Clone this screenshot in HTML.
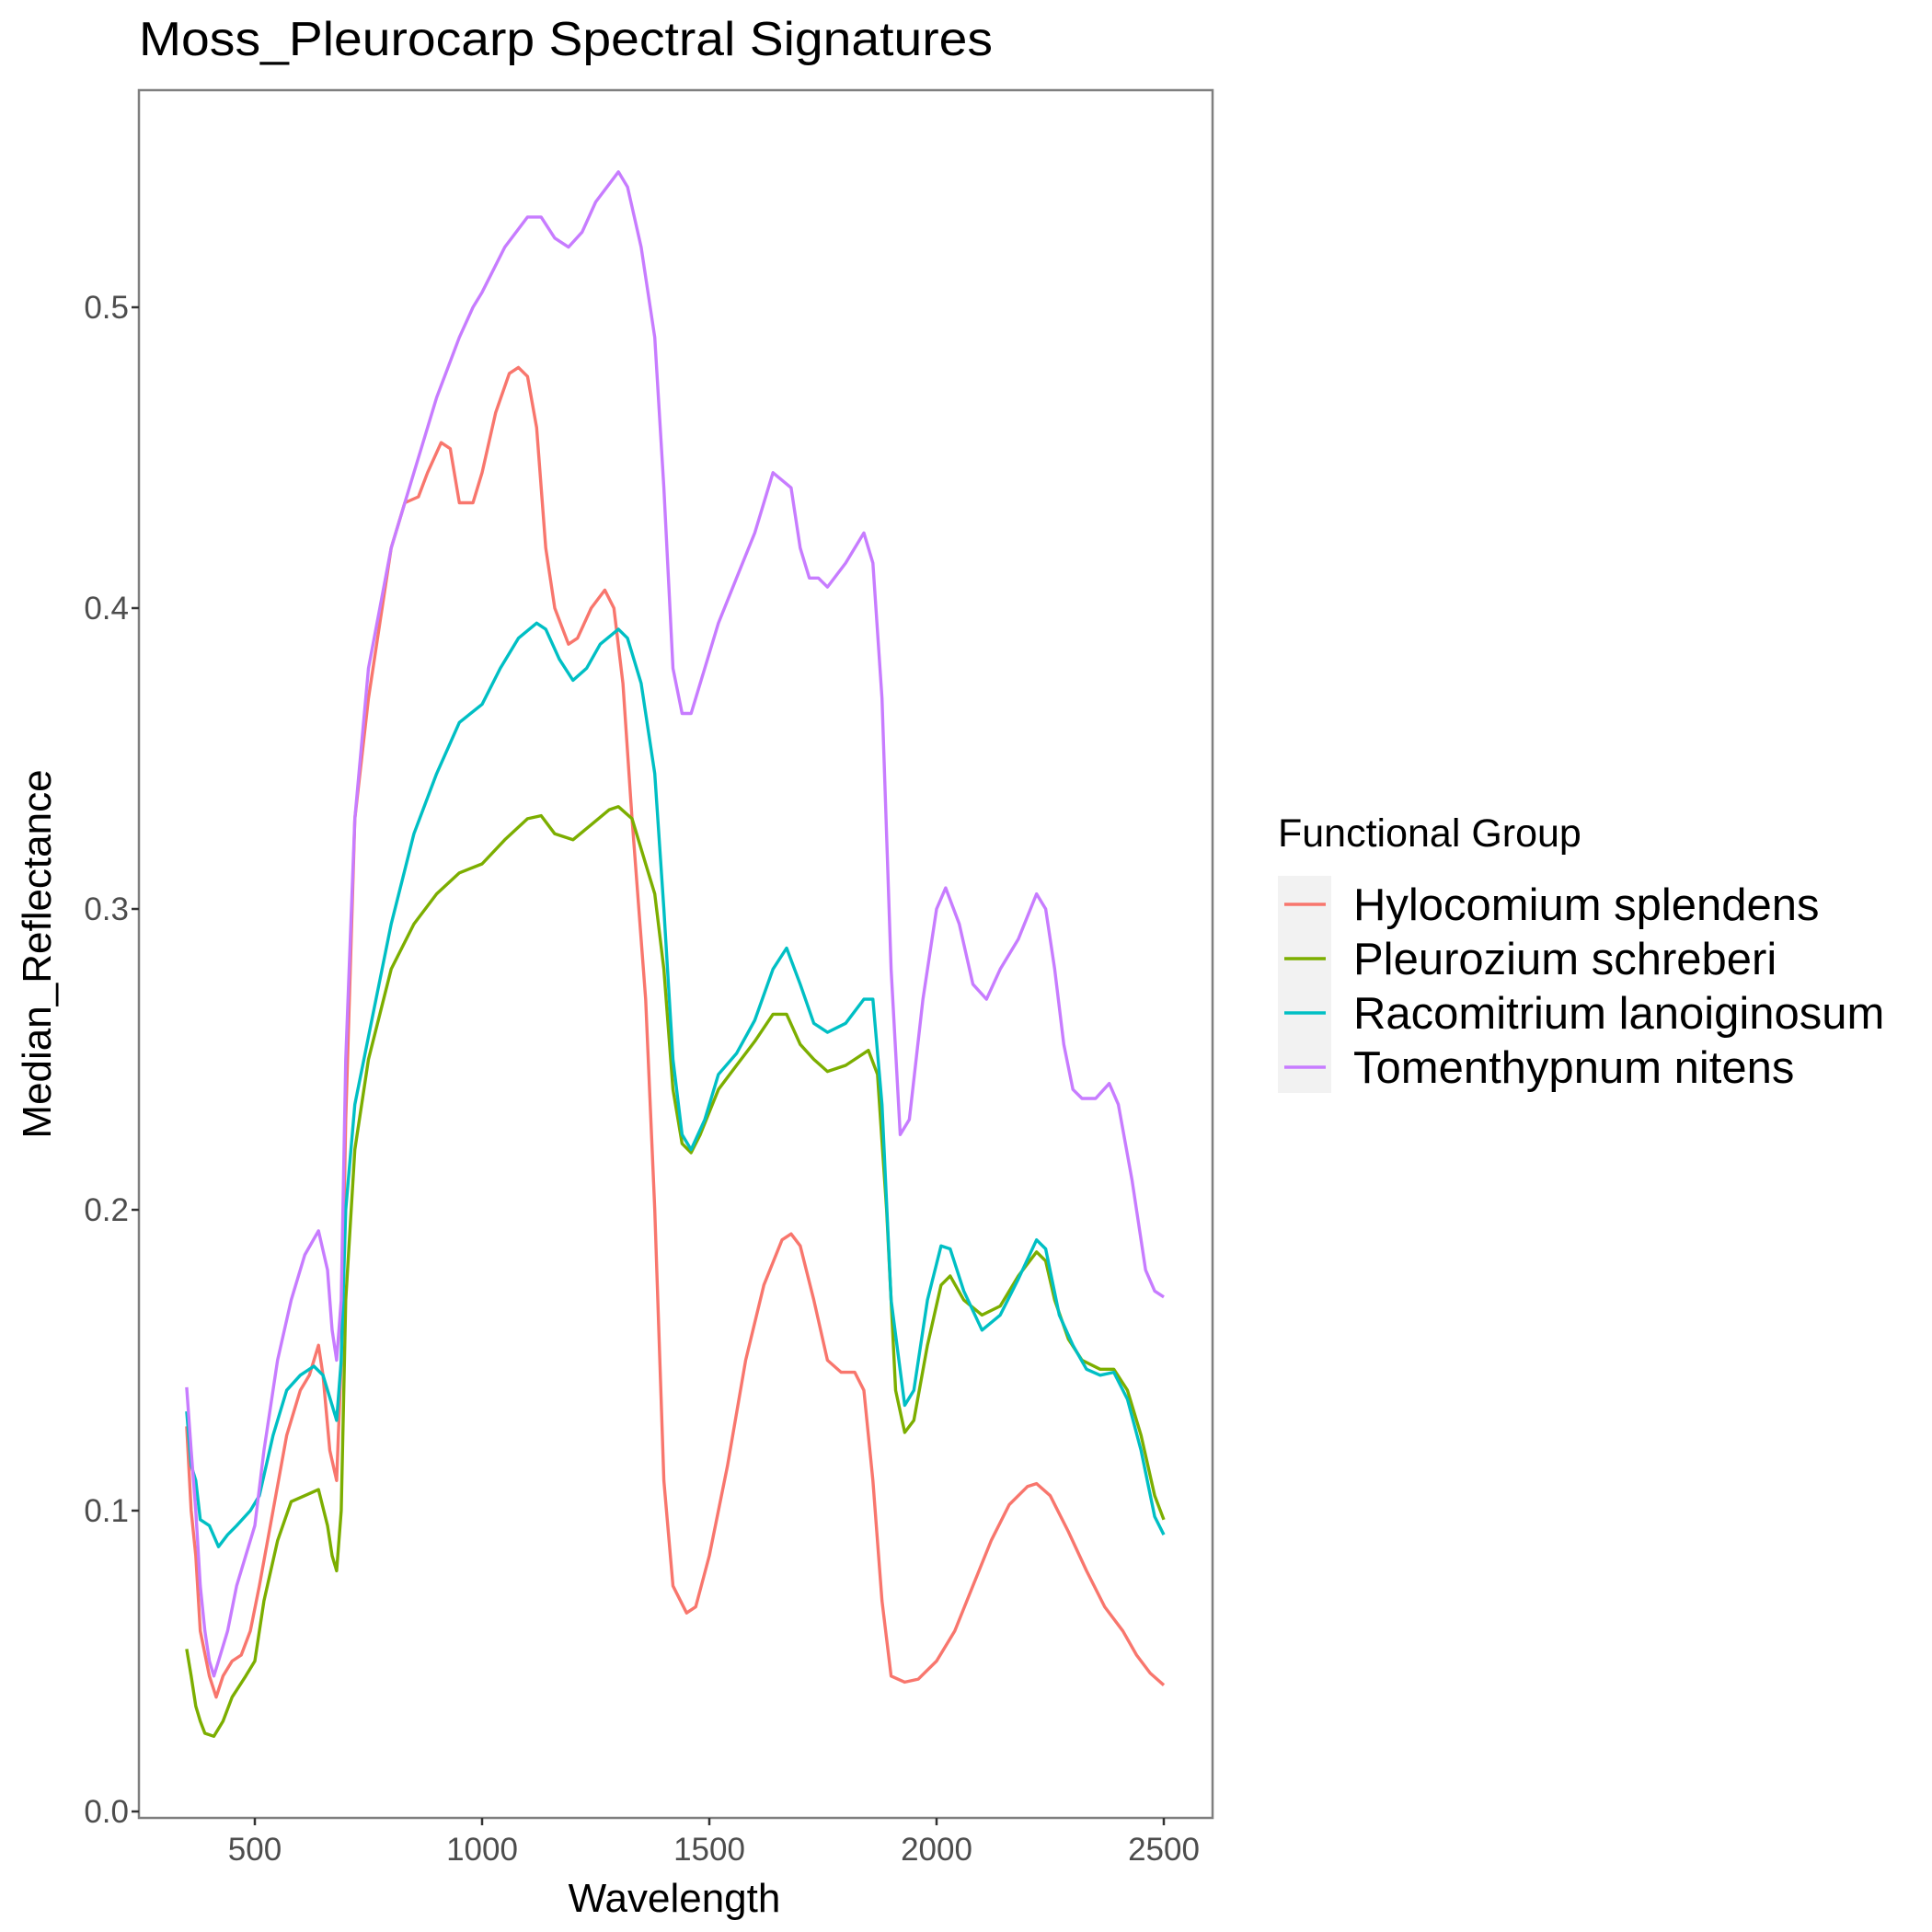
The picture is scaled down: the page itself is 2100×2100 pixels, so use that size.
<!DOCTYPE html>
<html><head><meta charset="utf-8"><style>
html,body{margin:0;padding:0;background:#fff;}
svg{display:block;font-family:"Liberation Sans",Arial,sans-serif;}
</style></head><body>
<svg id="chart" width="2100" height="2100" viewBox="0 0 2100 2100">
<rect width="2100" height="2100" fill="#fff"/>
<text x="151" y="60" font-size="52" fill="#000" textLength="928" lengthAdjust="spacingAndGlyphs">Moss_Pleurocarp Spectral Signatures</text>
<g id="plot"></g>
<g id="axes"></g>
<text x="733" y="2078" font-size="44" text-anchor="middle" fill="#000">Wavelength</text>
<text transform="translate(55,1037) rotate(-90)" font-size="44" text-anchor="middle" fill="#000">Median_Reflectance</text>
<g id="legend">
<text x="1389" y="920" font-size="43" fill="#000">Functional Group</text>
<rect x="1389" y="952" width="58" height="236" fill="#f2f2f2"/>
</g>
</svg>
<script>
const seriesNames = ["Hylocomium splendens","Pleurozium schreberi","Racomitrium lanoiginosum","Tomenthypnum nitens"];
const seriesColors = ["#F8766D","#7CAE00","#00BFC4","#C77CFF"];
const xTicks = [500,1000,1500,2000,2500];
const yTicks = [0,0.1,0.2,0.3,0.4,0.5];
const yTickLabels = ["0.0","0.1","0.2","0.3","0.4","0.5"];
const hyloWl = [350,360,370,380,400,415,430,450,470,490,510,540,570,600,620,640,650,665,680,690,700,720,750,800,830,860,880,910,930,950,980,1000,1030,1060,1080,1100,1120,1140,1160,1190,1210,1240,1270,1290,1310,1330,1360,1380,1400,1420,1450,1470,1500,1540,1580,1620,1660,1680,1700,1730,1760,1790,1820,1840,1860,1880,1900,1930,1960,2000,2040,2080,2120,2160,2200,2220,2250,2290,2330,2370,2410,2440,2470,2500];
const hyloVal = [0.128,0.1,0.085,0.06,0.045,0.038,0.045,0.05,0.052,0.06,0.075,0.1,0.125,0.14,0.145,0.155,0.145,0.12,0.11,0.15,0.23,0.33,0.37,0.42,0.435,0.437,0.445,0.455,0.453,0.435,0.435,0.445,0.465,0.478,0.48,0.477,0.46,0.42,0.4,0.388,0.39,0.4,0.406,0.4,0.375,0.33,0.27,0.2,0.11,0.075,0.066,0.068,0.085,0.115,0.15,0.175,0.19,0.192,0.188,0.17,0.15,0.146,0.146,0.14,0.11,0.07,0.045,0.043,0.044,0.05,0.06,0.075,0.09,0.102,0.108,0.109,0.105,0.093,0.08,0.068,0.06,0.052,0.046,0.042];
const pleuWl = [350,360,370,380,390,410,430,450,480,500,520,550,580,610,640,660,670,680,690,700,720,750,800,850,900,950,1000,1050,1100,1130,1160,1200,1240,1280,1300,1330,1360,1380,1400,1420,1440,1460,1480,1520,1560,1600,1640,1670,1700,1730,1760,1800,1850,1870,1890,1910,1930,1950,1980,2010,2030,2060,2100,2140,2180,2220,2240,2260,2290,2320,2360,2390,2420,2450,2480,2500];
const pleuVal = [0.054,0.045,0.035,0.03,0.026,0.025,0.03,0.038,0.045,0.05,0.07,0.09,0.103,0.105,0.107,0.095,0.085,0.08,0.1,0.17,0.22,0.25,0.28,0.295,0.305,0.312,0.315,0.323,0.33,0.331,0.325,0.323,0.328,0.333,0.334,0.33,0.315,0.305,0.28,0.24,0.222,0.219,0.225,0.24,0.248,0.256,0.265,0.265,0.255,0.25,0.246,0.248,0.253,0.245,0.2,0.14,0.126,0.13,0.155,0.175,0.178,0.17,0.165,0.168,0.178,0.186,0.183,0.17,0.157,0.15,0.147,0.147,0.14,0.125,0.105,0.097];
const racoWl = [350,360,370,380,400,420,440,460,490,510,540,570,600,630,650,670,680,690,700,720,760,800,850,900,950,1000,1040,1080,1120,1140,1170,1200,1230,1260,1300,1320,1350,1380,1400,1420,1440,1460,1490,1520,1560,1600,1640,1670,1700,1730,1760,1800,1840,1860,1880,1900,1930,1950,1980,2010,2030,2060,2100,2140,2180,2220,2240,2270,2300,2330,2360,2390,2420,2450,2480,2500];
const racoVal = [0.133,0.115,0.11,0.097,0.095,0.088,0.092,0.095,0.1,0.105,0.125,0.14,0.145,0.148,0.145,0.135,0.13,0.15,0.2,0.235,0.265,0.295,0.325,0.345,0.362,0.368,0.38,0.39,0.395,0.393,0.383,0.376,0.38,0.388,0.393,0.39,0.375,0.345,0.3,0.25,0.225,0.22,0.23,0.245,0.252,0.263,0.28,0.287,0.275,0.262,0.259,0.262,0.27,0.27,0.235,0.17,0.135,0.14,0.17,0.188,0.187,0.173,0.16,0.165,0.177,0.19,0.187,0.165,0.155,0.147,0.145,0.146,0.137,0.12,0.098,0.092];
const tomeWl = [350,360,370,380,390,400,410,420,440,460,480,500,520,550,580,610,640,660,670,680,690,700,720,750,800,850,900,950,980,1000,1050,1100,1130,1160,1190,1220,1250,1300,1320,1350,1380,1400,1420,1440,1460,1480,1520,1560,1600,1640,1680,1700,1720,1740,1760,1800,1840,1860,1880,1900,1920,1940,1970,2000,2020,2050,2080,2110,2140,2180,2220,2240,2260,2280,2300,2320,2350,2380,2400,2430,2460,2480,2500];
const tomeVal = [0.141,0.12,0.1,0.075,0.06,0.05,0.045,0.05,0.06,0.075,0.085,0.095,0.12,0.15,0.17,0.185,0.193,0.18,0.16,0.15,0.17,0.25,0.33,0.38,0.42,0.445,0.47,0.49,0.5,0.505,0.52,0.53,0.53,0.523,0.52,0.525,0.535,0.545,0.54,0.52,0.49,0.44,0.38,0.365,0.365,0.375,0.395,0.41,0.425,0.445,0.44,0.42,0.41,0.41,0.407,0.415,0.425,0.415,0.37,0.28,0.225,0.23,0.27,0.3,0.307,0.295,0.275,0.27,0.28,0.29,0.305,0.3,0.28,0.255,0.24,0.237,0.237,0.242,0.235,0.21,0.18,0.173,0.171];

const PL=151, PR=1318, PT=98, PB=1976;
function xs(w){ return 277 + (w-500)*(988/2000); }
function ys(v){ return 1969 - v*3270; }
const NS="http://www.w3.org/2000/svg";
function mk(tag, attrs, parent){ const e=document.createElementNS(NS,tag); for(const k in attrs) e.setAttribute(k,attrs[k]); parent.appendChild(e); return e; }

const plot=document.getElementById('plot');
const axes=document.getElementById('axes');
const bd=mk('rect',{x:PL,y:PT,width:PR-PL,height:PB-PT,fill:'none',stroke:'#7f7f7f','stroke-width':2.5},plot);



const allWl=[hyloWl,pleuWl,racoWl,tomeWl];
const allVal=[hyloVal,pleuVal,racoVal,tomeVal];
const keys=['hylocomium','pleurozium','racomitrium','tomenthypnum'];
allWl.forEach((wl,i)=>{
  let d='';
  wl.forEach((w,j)=>{ d+=(j?'L':'M')+xs(w).toFixed(1)+','+ys(allVal[i][j]).toFixed(1); });
  const p=mk('path',{d:d,fill:'none',stroke:seriesColors[i],'stroke-width':3.4,'stroke-linejoin':'round'},plot);
  
  
});

xTicks.forEach(t=>{
  const x=xs(t);
  const l=mk('line',{x1:x,x2:x,y1:PB,y2:PB+8,stroke:'#333','stroke-width':2.5},axes);
  
  
  const tx=mk('text',{x:x,y:PB+46,'font-size':35,'text-anchor':'middle',fill:'#4d4d4d'},axes);
  tx.textContent=t;
  
  
});
yTicks.forEach((t,i)=>{
  const y=ys(t);
  const l=mk('line',{x1:PL-8,x2:PL,y1:y,y2:y,stroke:'#333','stroke-width':2.5},axes);
  
  
  const tx=mk('text',{x:PL-11,y:y+12,'font-size':35,'text-anchor':'end',fill:'#4d4d4d'},axes);
  tx.textContent=yTickLabels[i];
  
  
});

const legend=document.getElementById('legend');
const ly=[983,1042,1101,1160];
seriesNames.forEach((n,i)=>{
  const l=mk('line',{x1:1396,x2:1441,y1:ly[i],y2:ly[i],stroke:seriesColors[i],'stroke-width':3.4},legend);
  
  
  const t=mk('text',{x:1471,y:ly[i]+17,'font-size':49,fill:'#000'},legend);
  t.textContent=n;
  
  
});
</script>
</body></html>
